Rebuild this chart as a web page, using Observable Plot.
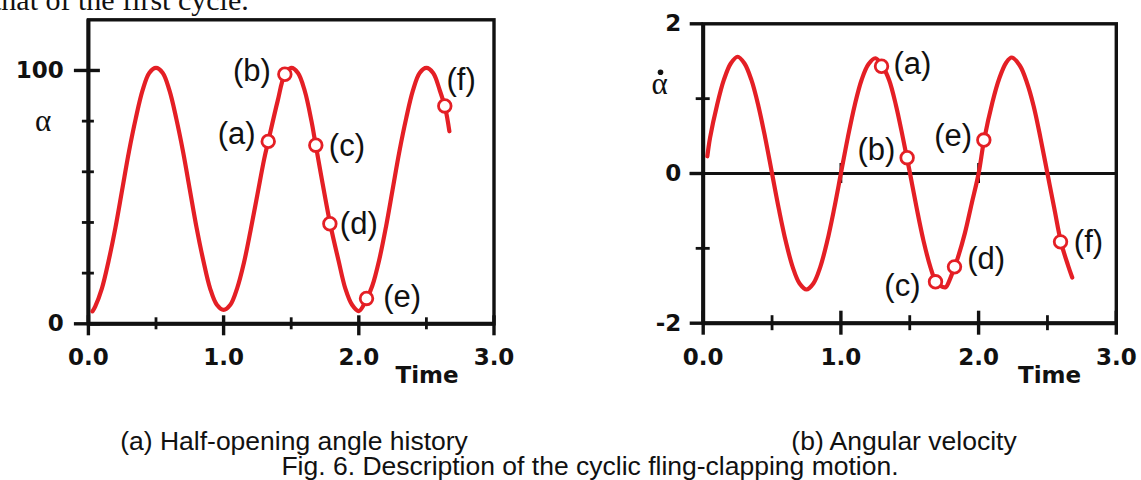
<!DOCTYPE html>
<html><head><meta charset="utf-8">
<script src="https://cdn.jsdelivr.net/npm/d3@7"></script>
<script src="https://cdn.jsdelivr.net/npm/@observablehq/plot@0.6"></script>
<style>
html,body{margin:0;padding:0;background:#fff;}
#page{position:relative;width:1141px;height:480px;overflow:hidden;background:#fff;}
.abs{position:absolute;}
.cap{position:absolute;font-family:"Liberation Sans",Arial,sans-serif;font-size:26.5px;color:#111;white-space:nowrap;transform:translate(-50%,-50%);line-height:1;}
#top{position:absolute;left:-7px;top:-15px;font-family:"Liberation Serif","Times New Roman",serif;font-size:30px;line-height:30px;color:#111;white-space:nowrap;}
</style></head>
<body><div id="page">
<div id="top">that of the first cycle.</div>
<div id="left" class="abs" style="left:0;top:0"></div>
<div id="right" class="abs" style="left:570px;top:0"></div>
<div class="cap" style="left:294px;top:441px">(a) Half-opening angle history</div>
<div class="cap" style="left:904px;top:441px">(b) Angular velocity</div>
<div class="cap" style="left:590px;top:466px">Fig. 6. Description of the cyclic fling-clapping motion.</div>
</div>
<script>
// ---- data ----
const alphaTime  = [0.03,0.05,0.10,0.15,0.20,0.25,0.30,0.35,0.40,0.45,0.50,0.55,0.60,0.65,0.70,0.75,0.80,0.85,0.90,0.95,1.00,1.05,1.10,1.15,1.20,1.25,1.30,1.33,1.40,1.45,1.50,1.55,1.60,1.65,1.68,1.72,1.79,1.85,1.90,1.95,2.00,2.06,2.10,2.15,2.20,2.25,2.30,2.35,2.40,2.45,2.50,2.55,2.60,2.64,2.67];
const alphaValue = [4.9,6.8,14,25,38,53,68,81,92,99,101,99,92,81,68,53,38,25,14,7.5,5.5,7.5,14,24,37,51,65,72,88,98,101,99,92,80,71,59,39,25,14,7.5,5,10,15,25,38,53,68,81,92,99,101,99,92,85,76];
const rateTime   = [0.03,0.05,0.10,0.15,0.20,0.25,0.30,0.35,0.40,0.45,0.50,0.55,0.60,0.65,0.70,0.75,0.80,0.85,0.90,0.95,1.00,1.05,1.10,1.15,1.20,1.25,1.30,1.35,1.40,1.45,1.50,1.55,1.60,1.65,1.69,1.72,1.76,1.79,1.825,1.85,1.90,1.95,2.00,2.04,2.10,2.15,2.20,2.24,2.30,2.35,2.40,2.45,2.50,2.55,2.60,2.65,2.68];
const rateValue  = [0.23,0.48,0.91,1.25,1.47,1.56,1.47,1.25,0.91,0.48,0,-0.48,-0.91,-1.25,-1.47,-1.55,-1.47,-1.25,-0.91,-0.48,0,0.48,0.91,1.25,1.46,1.54,1.44,1.25,0.91,0.48,0.02,-0.46,-0.90,-1.25,-1.45,-1.50,-1.52,-1.42,-1.25,-1.12,-0.80,-0.40,0,0.45,0.95,1.27,1.48,1.55,1.44,1.22,0.90,0.47,0,-0.47,-0.93,-1.23,-1.39];
const markerLabels     = ["(a)","(b)","(c)","(d)","(e)","(f)"];
const alphaMarkerTime  = [1.330,1.453,1.682,1.786,2.057,2.636];
const alphaMarkerValue = [72,98.5,70.5,39.5,10,86];
const rateMarkerTime   = [1.295,1.481,1.687,1.825,2.038,2.595];
const rateMarkerValue  = [1.433,0.211,-1.447,-1.247,0.447,-0.913];
const timeTicks       = [0,1,2,3];
const timeMinorTicks  = [0.5,1.5,2.5];
const alphaTicks      = [0,100];
const alphaMinorTicks = [20,40,60,80];
const rateTicks       = [-2,0,2];
const rateMinorTicks  = [-1,1];
const zeroLineTicks   = [1,2];
const timeLabel = "Time";

// ---- styles ----
const ink = "#111";
const red = "#e41f25";
const tickFont = {fontFamily: "DejaVu Sans", fontWeight: "bold", fontSize: 23, fill: ink, lineAnchor: "middle"};
const labelFont = {fontFamily: "Liberation Sans", fontSize: 31, fill: ink, lineAnchor: "middle"};
const symbolFont = {fontFamily: "Liberation Serif", fontSize: 31, fill: ink, lineAnchor: "middle", textAnchor: "middle"};
const curveStyle = {stroke: red, strokeWidth: 4.2, curve: "catmull-rom"};
const markerStyle = {r: 6.3, fill: "white", stroke: red, strokeWidth: 2.8};

const alphaData = alphaTime.map((t,i)=>({t, v: alphaValue[i]}));
const rateData = rateTime.map((t,i)=>({t, v: rateValue[i]}));
const alphaMarkers = alphaMarkerTime.map((t,i)=>({t, v: alphaMarkerValue[i], label: markerLabels[i]}));
const rateMarkers = rateMarkerTime.map((t,i)=>({t, v: rateMarkerValue[i], label: markerLabels[i]}));

function markerText(markers, i, anchor, dx, dy) {
  return Plot.text([markers[i]], {x: "t", y: "v", text: "label", textAnchor: anchor, dx, dy, ...labelFont});
}

// ---- left: half-opening angle ----
const left = Plot.plot({
  width: 560, height: 420,
  marginLeft: 87.9, marginRight: 66.5, marginTop: 19.3, marginBottom: 96.7,
  x: {domain: [0,3], axis: null},
  y: {domain: [0,120], axis: null},
  style: {background: "transparent", overflow: "visible"},
  marks: [
    Plot.frame({stroke: ink, strokeWidth: 3.4}),
    Plot.ruleX([0], {stroke: ink, strokeWidth: 4}),
    Plot.ruleY([0], {stroke: ink, strokeWidth: 4}),
    Plot.ruleX(timeTicks, {x: d=>d, y1: 0, y2: 0, insetTop: 12, insetBottom: 8, stroke: ink, strokeWidth: 3.4}),
    Plot.ruleX(timeMinorTicks, {x: d=>d, y1: 0, y2: 0, insetTop: 6, insetBottom: 6, stroke: ink, strokeWidth: 2.8}),
    Plot.ruleY(alphaTicks, {y: d=>d, x1: 0, x2: 0, insetLeft: -14, insetRight: -12, stroke: ink, strokeWidth: 3.4}),
    Plot.ruleY(alphaMinorTicks, {y: d=>d, x1: 0, x2: 0, insetLeft: -6, insetRight: -6, stroke: ink, strokeWidth: 2.8}),
    Plot.text(timeTicks, {x: d=>d, text: d=>d.toFixed(1), frameAnchor: "bottom", textAnchor: "middle", dy: 33.4, ...tickFont}),
    Plot.text(alphaTicks, {y: d=>d, text: d=>String(d), frameAnchor: "left", textAnchor: "end", dx: -24.6, ...tickFont}),
    Plot.text([timeLabel], {text: d=>d, frameAnchor: "bottom-right", textAnchor: "middle", dx: -67, dy: 51.7, ...tickFont}),
    Plot.text(["α"], {text: d=>d, frameAnchor: "top-left", dx: -45.4, dy: 101.7, ...symbolFont}),
    Plot.line(alphaData, {x: "t", y: "v", ...curveStyle}),
    Plot.dot(alphaMarkers, {x: "t", y: "v", ...markerStyle}),
    markerText(alphaMarkers, 0, "end", -12.7, -7.7),
    markerText(alphaMarkers, 1, "end", -14, -3.3),
    markerText(alphaMarkers, 2, "start", 13, 1),
    markerText(alphaMarkers, 3, "start", 10, 0),
    markerText(alphaMarkers, 4, "start", 16.7, -1.7),
    markerText(alphaMarkers, 5, "start", 1.7, -25.7)
  ]
});
document.getElementById("left").append(left);

// ---- right: angular velocity ----
const right = Plot.plot({
  width: 571, height: 420,
  marginLeft: 132.7, marginRight: 25.2, marginTop: 23.3, marginBottom: 97.3,
  x: {domain: [0,3], axis: null},
  y: {domain: [-2,2], axis: null},
  style: {background: "transparent", overflow: "visible"},
  marks: [
    Plot.frame({stroke: ink, strokeWidth: 3.4}),
    Plot.ruleX([0], {stroke: ink, strokeWidth: 4}),
    Plot.ruleY([-2], {stroke: ink, strokeWidth: 4}),
    Plot.ruleY([0], {y: d=>d, x1: 0, x2: 3, insetLeft: -13, stroke: ink, strokeWidth: 3.2}),
    Plot.ruleX(timeTicks, {x: d=>d, y1: -2, y2: -2, insetTop: 12, insetBottom: 12, stroke: ink, strokeWidth: 3.4}),
    Plot.ruleX(timeMinorTicks, {x: d=>d, y1: -2, y2: -2, insetTop: 7.5, insetBottom: 7.5, stroke: ink, strokeWidth: 2.8}),
    Plot.ruleX(zeroLineTicks, {x: d=>d, y1: 0, y2: 0, insetTop: 10, insetBottom: 10, stroke: ink, strokeWidth: 2.8}),
    Plot.ruleY(rateTicks, {y: d=>d, x1: 0, x2: 0, insetLeft: -13, insetRight: 0, stroke: ink, strokeWidth: 3.4}),
    Plot.ruleY(rateMinorTicks, {y: d=>d, x1: 0, x2: 0, insetLeft: -7, insetRight: -7, stroke: ink, strokeWidth: 2.8}),
    Plot.text(timeTicks, {x: d=>d, text: d=>d.toFixed(1), frameAnchor: "bottom", textAnchor: "middle", dy: 34, ...tickFont}),
    Plot.text(rateTicks, {y: d=>d, text: d=>String(d), frameAnchor: "left", textAnchor: "end", dx: -22, ...tickFont}),
    Plot.text([timeLabel], {text: d=>d, frameAnchor: "bottom-right", textAnchor: "middle", dx: -66.8, dy: 52.3, ...tickFont}),
    Plot.text(["α"], {text: d=>d, frameAnchor: "top-left", dx: -43.7, dy: 60.7, ...symbolFont}),
    Plot.dot(["dot"], {frameAnchor: "top-left", dx: -42.7, dy: 48.4, r: 2.8, fill: ink}),
    Plot.line(rateData, {x: "t", y: "v", ...curveStyle}),
    Plot.dot(rateMarkers, {x: "t", y: "v", ...markerStyle}),
    markerText(rateMarkers, 0, "start", 12, -1.7),
    markerText(rateMarkers, 1, "end", -11.7, -8),
    markerText(rateMarkers, 2, "end", -15, 4),
    markerText(rateMarkers, 3, "start", 12.7, -7.7),
    markerText(rateMarkers, 4, "end", -11.7, -4),
    markerText(rateMarkers, 5, "start", 13.3, 0.7)
  ]
});
document.getElementById("right").append(right);
</script>
</body></html>
